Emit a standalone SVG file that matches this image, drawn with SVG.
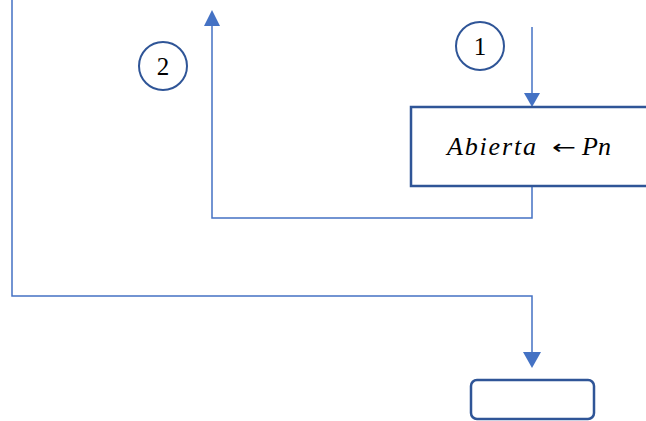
<svg xmlns="http://www.w3.org/2000/svg" width="646" height="421" viewBox="0 0 646 421">
  <style>
    .conn { fill: none; stroke: #4472C4; stroke-width: 1.5; }
    .head { fill: #4472C4; }
    .box { fill: #ffffff; stroke: #2F5597; stroke-width: 2.5; }
    .ring { fill: #ffffff; stroke: #2F5597; stroke-width: 2; }
    .num { font-family: "Liberation Serif", serif; font-size: 25px; fill: #000000; text-anchor: middle; }
    .math { font-family: "Liberation Serif", serif; font-size: 26px; font-style: italic; fill: #000000; }
    .op { font-family: "DejaVu Sans", sans-serif; font-size: 20px; fill: #000000; }
  </style>
  <rect width="646" height="421" fill="#ffffff"/>

  <g id="connectors">
    <path class="conn" d="M532,27 V93"/>
    <path class="head" d="M524,93 L532,107 L540,93 z"/>
    <path class="conn" d="M532,186 V218 H212 V26"/>
    <path class="head" d="M204,26 L212,10 L220,26 z"/>
    <path class="conn" d="M12,0 V296 H532 V352"/>
    <path class="head" d="M523,352 L532,368 L541,352 z"/>
  </g>

  <g id="label-1">
    <circle class="ring" cx="480" cy="46" r="24"/>
    <text class="num" x="480" y="55">1</text>
  </g>

  <g id="label-2">
    <circle class="ring" cx="163" cy="66" r="24"/>
    <text class="num" x="163" y="75">2</text>
  </g>

  <g id="assign">
    <rect class="box" x="411" y="107" width="245" height="79"/>
    <text class="math" x="447" y="155" textLength="89" lengthAdjust="spacing">Abierta</text>
    <text class="op" x="552" y="154" textLength="24" lengthAdjust="spacingAndGlyphs">←</text>
    <text class="math" x="582" y="155">Pn</text>
  </g>

  <g id="next">
    <rect class="box" x="471" y="380" width="123" height="39" rx="6"/>
  </g>
</svg>
